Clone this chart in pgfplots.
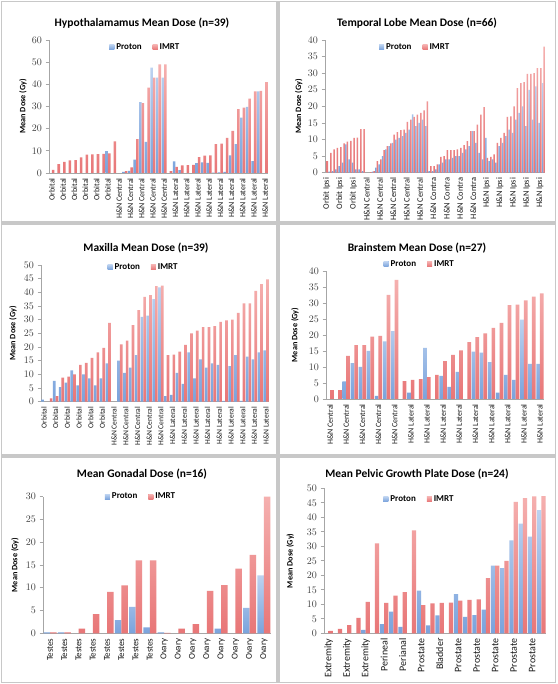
\documentclass[border=0pt]{standalone}
\usepackage{fontspec}
\setmainfont{Carlito}
\usepackage{pgfplots}
\usepackage{pgfplotstable}
\pgfplotsset{compat=1.18}

\definecolor{pT}{HTML}{BCD2F0}
\definecolor{pB}{HTML}{7AA3DC}
\definecolor{pM}{HTML}{7FA6DE}
\definecolor{rT}{HTML}{F5B0AF}
\definecolor{rB}{HTML}{E87677}
\definecolor{rM}{HTML}{E87C7D}
\definecolor{frame}{HTML}{C8C8C8}

% ---------------- data ----------------
\pgfplotstableread{
x p r
0 0 1.4
1 0 4.0
2 0 5.0
3 0 5.7
4 0 5.8
5 0 7.1
6 0 8.3
7 0 8.4
8 0 8.5
9 0 8.6
10 9.9 8.9
11 0 14.3
12 0 0
13 0.5 0.8
14 1.0 2.5
15 6.0 15.3
16 32.0 31.5
17 14.0 38.5
18 47.5 43.0
19 43.0 49.0
20 43.0 49.0
21 0 0.8
22 5.2 2.8
23 1.3 3.4
24 0 3.5
25 0 3.7
26 4.5 7.2
27 4.8 7.8
28 4.6 7.9
29 0.2 13.0
30 0.3 13.3
31 0.5 15.8
32 8.0 19.0
33 13.0 28.8
34 25.0 29.5
35 29.8 33.5
36 5.3 36.8
37 36.8 37.0
38 0 41.0
}\hypo

\pgfplotstableread{
x p r
0 0 3.5
1 0.3 6.0
2 0.5 7.0
3 1.0 7.5
4 2.0 7.7
5 3.0 8.8
6 8.5 9.4
7 4.0 9.6
8 3.0 10.5
9 1.0 10.6
10 1.0 13.1
11 0.5 13.1
12 0 0
13 0 0.2
14 0.3 0.5
15 1.5 3.5
16 2.5 4.0
17 5.0 6.8
18 7.0 8.0
19 8.0 8.8
20 9.0 11.5
21 10.0 12.2
22 10.5 12.8
23 11.0 13.0
24 12.0 15.3
25 13.0 16.0
26 17.6 16.8
27 14.0 17.5
28 15.0 18.0
29 16.0 18.8
30 14.0 21.5
31 0.5 2.0
32 0.5 2.0
33 1.0 2.5
34 2.5 4.8
35 3.0 5.0
36 4.0 6.8
37 4.0 6.8
38 4.5 6.8
39 5.0 7.0
40 5.0 7.5
41 6.0 8.3
42 7.0 9.5
43 8.0 12.5
44 12.5 12.5
45 9.0 14.5
46 6.0 17.5
47 4.0 19.8
48 10.5 4.5
49 3.5 4.8
50 4.0 5.5
51 3.0 9.0
52 8.0 10.5
53 9.0 12.0
54 11.0 16.8
55 13.0 17.0
56 12.0 20.0
57 16.0 25.5
58 18.0 27.0
59 20.0 27.3
60 14.0 29.8
61 25.0 29.8
62 16.0 30.0
63 26.0 31.5
64 15.0 31.5
65 27.0 38.0
}\temporal

\pgfplotstableread{
x p r
0 0.8 0
1 0 1.2
2 7.6 2.0
3 5.3 8.8
4 7.0 9.2
5 11.5 10.0
6 6.0 13.5
7 10.0 14.2
8 8.5 16.0
9 6.0 18.0
10 8.5 19.7
11 14.0 28.8
12 0 0
13 15.0 21.0
14 10.5 22.3
15 12.5 28.0
16 17.0 33.5
17 31.0 38.3
18 31.5 39.0
19 37.5 42.3
20 41.8 42.5
21 2.0 17.0
22 2.5 17.2
23 10.5 18.3
24 6.5 20.8
25 18.0 25.0
26 8.5 26.0
27 15.5 27.3
28 12.5 27.3
29 14.0 27.6
30 13.5 29.2
31 0.3 29.7
32 13.0 30.0
33 17.0 32.5
34 0.3 36.0
35 16.5 36.0
36 15.5 40.5
37 18.0 43.0
38 18.8 44.7
}\maxilla

\pgfplotstableread{
x p r
0 0 2.8
1 0 2.8
2 5.5 13.5
3 11.2 16.8
4 10.0 16.8
5 15.0 19.5
6 1.0 19.7
7 18.0 32.5
8 21.2 37.2
9 0 5.6
10 2.0 6.0
11 0 6.2
12 16.0 6.8
13 0 7.5
14 7.2 11.8
15 3.8 13.8
16 8.5 15.2
17 0 17.8
18 14.8 19.3
19 14.5 20.5
20 11.5 22.2
21 2.0 23.8
22 7.5 29.3
23 6.0 29.5
24 24.8 30.8
25 11.0 32.0
26 11.0 33.0
}\brainstem

\pgfplotstableread{
x p r
0 0.2 0.2
1 0.2 0.2
2 0 1.0
3 0 4.2
4 0 9.1
5 2.9 10.5
6 5.8 16.0
7 1.3 16.0
8 0.2 0.1
9 0 1.0
10 0 2.0
11 0 9.3
12 1.0 10.6
13 0 14.2
14 5.6 17.2
15 12.7 30.0
}\gonadal

\pgfplotstableread{
x p r
0 0 0.8
1 0 1.5
2 0 2.8
3 0 5.3
4 1.2 10.8
5 0 31.0
6 3.2 10.5
7 7.5 13.0
8 2.2 14.2
9 0 35.5
10 14.7 9.7
11 2.7 10.3
12 6.2 10.5
13 0 10.6
14 13.5 11.3
15 5.7 11.5
16 6.3 11.7
17 8.2 19.0
18 23.3 23.3
19 22.5 25.0
20 32.0 45.3
21 37.8 46.6
22 33.3 47.2
23 42.5 47.3
}\pelvic

\pgfplotsset{
  dose/.style={
    anchor=south west, scale only axis,
    ybar=0pt, bar width=0.46,
    ymin=0, xmin=-0.5,
    axis x line*=bottom, axis y line*=left,
    x axis line style={-}, y axis line style={-},
    axis line style={draw=black!35, line width=0.7pt},
    tick align=outside,
    xtick style={draw=none},
    ytick style={draw=black!35, line width=0.7pt},
    major tick length=3.5pt,
    yticklabel style={font=\fontsize{10}{10}\selectfont, text=black!75},
    xticklabel style={rotate=90, anchor=east, text=black!90, inner sep=1.5pt},
    ylabel={Mean Dose (Gy)},
    ylabel style={font=\bfseries\fontsize{8.2}{9}\selectfont, anchor=center},
    legend style={draw=none, fill=none, legend columns=2,
      font=\bfseries\fontsize{9}{10}\selectfont, anchor=center,
      /tikz/every even column/.append style={column sep=9pt}},
    legend cell align=left,
    restrict y to domain=0.01:1000,
    scaled y ticks=false,
  },
  proton/.style={draw=none, top color=pT, bottom color=pB,
    legend image code/.code={\fill[pM] (0pt,-2.5pt) rectangle (5pt,2.5pt);}},
  imrt/.style={draw=none, top color=rT, bottom color=rB,
    legend image code/.code={\fill[rM] (0pt,-2.5pt) rectangle (5pt,2.5pt);}},
}

\begin{document}
\begin{tikzpicture}
\useasboundingbox (0,0) rectangle (557pt,684pt);
\fill[white] (0,0) rectangle (557pt,684pt);
% panel frames
\begin{scope}[draw=frame, line width=1.3pt]
\draw (1.5pt,682.5pt) rectangle (277pt,462pt);
\draw (279pt,682.5pt) rectangle (555.5pt,462pt);
\draw (1.5pt,460pt) rectangle (277pt,229pt);
\draw (279pt,460pt) rectangle (555.5pt,229pt);
\draw (1.5pt,227pt) rectangle (277pt,1.5pt);
\draw (279pt,227pt) rectangle (555.5pt,1.5pt);
\end{scope}

\begin{scope}[font=\bfseries\fontsize{11.5}{12}\selectfont]
\node at (142pt,661pt) {Hypothalamamus Mean Dose (n=39)};
\node at (417pt,661pt) {Temporal Lobe Mean Dose (n=66)};
\node at (146pt,436pt) {Maxilla Mean Dose (n=39)};
\node at (417pt,436pt) {Brainstem Mean Dose (n=27)};
\node at (142pt,210pt) {Mean Gonadal Dose (n=16)};
\node at (417pt,210pt) {Mean Pelvic Growth Plate Dose (n=24)};
\end{scope}

% Panel 1
\begin{axis}[dose, at={(49pt,511pt)}, width=219pt, height=133pt,
  xmax=38.5, ymax=60, ytick distance=10,
  xtick={0,2,...,38},
  xticklabels={Orbital,Orbital,Orbital,Orbital,Orbital,Orbital,H\&N Central,H\&N Central,H\&N Central,H\&N Central,H\&N Central,H\&N Lateral,H\&N Lateral,H\&N Lateral,H\&N Lateral,H\&N Lateral,H\&N Lateral,H\&N Lateral,H\&N Lateral,H\&N Lateral},
  xticklabel style={font=\fontsize{8}{8}\selectfont},
  ylabel style={at={(axis description cs:-0.119,0.5)}},
  legend style={at={(0.44,0.947)}}]
\addplot[proton] table[x=x,y=p]{\hypo};
\addplot[imrt] table[x=x,y=r]{\hypo};
\legend{Proton,IMRT}
\end{axis}

% Panel 2
\begin{axis}[dose, at={(325pt,511.3pt)}, width=220pt, height=132.7pt,
  xmax=65.5, ymax=40, ytick distance=5,
  xtick={0,4,...,64},
  xticklabels={Orbit Ipsi,Orbit Ipsi,Orbit Ipsi,H\&N Central,H\&N Central,H\&N Central,H\&N Central,H\&N Central,H\&N Contra,H\&N Contra,H\&N Contra,H\&N Contra,H\&N Ipsi,H\&N Ipsi,H\&N Ipsi,H\&N Ipsi,H\&N Ipsi},
  xticklabel style={font=\fontsize{8.4}{8.4}\selectfont},
  ylabel style={at={(axis description cs:-0.120,0.5)}},
  legend style={at={(0.41,0.947)}}]
\addplot[proton] table[x=x,y=p]{\temporal};
\addplot[imrt] table[x=x,y=r]{\temporal};
\legend{Proton,IMRT}
\end{axis}

% Panel 3
\begin{axis}[dose, at={(41pt,282.3pt)}, width=228pt, height=136.7pt,
  xmax=38.5, ymax=50, ytick distance=5,
  xtick={0,2,...,38},
  xticklabels={Orbital,Orbital,Orbital,Orbital,Orbital,Orbital,H\&N Central,H\&N Central,H\&N Central,H\&N Central,H\&N Central,H\&N Lateral,H\&N Lateral,H\&N Lateral,H\&N Lateral,H\&N Lateral,H\&N Lateral,H\&N Lateral,H\&N Lateral,H\&N Lateral},
  xticklabel style={font=\fontsize{7.6}{7.6}\selectfont},
  ylabel style={at={(axis description cs:-0.123,0.5)}},
  legend style={at={(0.45,0.985)}}]
\addplot[proton] table[x=x,y=p]{\maxilla};
\addplot[imrt] table[x=x,y=r]{\maxilla};
\legend{Proton,IMRT}
\end{axis}

% Panel 4
\begin{axis}[dose, at={(326pt,285pt)}, width=218pt, height=128pt,
  xmax=26.5, ymax=40, ytick distance=5,
  xtick={0,2,...,26},
  xticklabels={H\&N Central,H\&N Central,H\&N Central,H\&N Central,H\&N Central,H\&N Lateral,H\&N Lateral,H\&N Lateral,H\&N Lateral,H\&N Lateral,H\&N Lateral,H\&N Lateral,H\&N Lateral,H\&N Lateral},
  xticklabel style={font=\fontsize{8}{8}\selectfont},
  ylabel style={at={(axis description cs:-0.142,0.5)}},
  legend style={at={(0.43,1.055)}}]
\addplot[proton] table[x=x,y=p]{\brainstem};
\addplot[imrt] table[x=x,y=r]{\brainstem};
\legend{Proton,IMRT}
\end{axis}

% Panel 5
\begin{axis}[dose, at={(43pt,50.7pt)}, width=228pt, height=136.6pt,
  xmax=15.5, ymax=30, ytick distance=5,
  xtick={0,1,...,15},
  xticklabels={Testes,Testes,Testes,Testes,Testes,Testes,Testes,Testes,Ovary,Ovary,Ovary,Ovary,Ovary,Ovary,Ovary,Ovary},
  xticklabel style={font=\fontsize{9}{9}\selectfont},
  ylabel style={at={(axis description cs:-0.123,0.5)}},
  legend style={at={(0.43,1.0)}}]
\addplot[proton] table[x=x,y=p]{\gonadal};
\addplot[imrt] table[x=x,y=r]{\gonadal};
\legend{Proton,IMRT}
\end{axis}

% Panel 6
\begin{axis}[dose, at={(324pt,50.7pt)}, width=222pt, height=145pt,
  xmax=23.5, ymax=50, ytick distance=5,
  xtick={0,2,...,22},
  xticklabels={Extremity,Extremity,Extremity,Perineal,Perianal,Prostate,Bladder,Prostate,Prostate,Prostate,Prostate,Prostate},
  xticklabel style={font=\fontsize{10}{10}\selectfont},
  ylabel style={at={(axis description cs:-0.152,0.5)}},
  legend style={at={(0.43,0.926)}}]
\addplot[proton] table[x=x,y=p]{\pelvic};
\addplot[imrt] table[x=x,y=r]{\pelvic};
\legend{Proton,IMRT}
\end{axis}
\end{tikzpicture}
\end{document}
